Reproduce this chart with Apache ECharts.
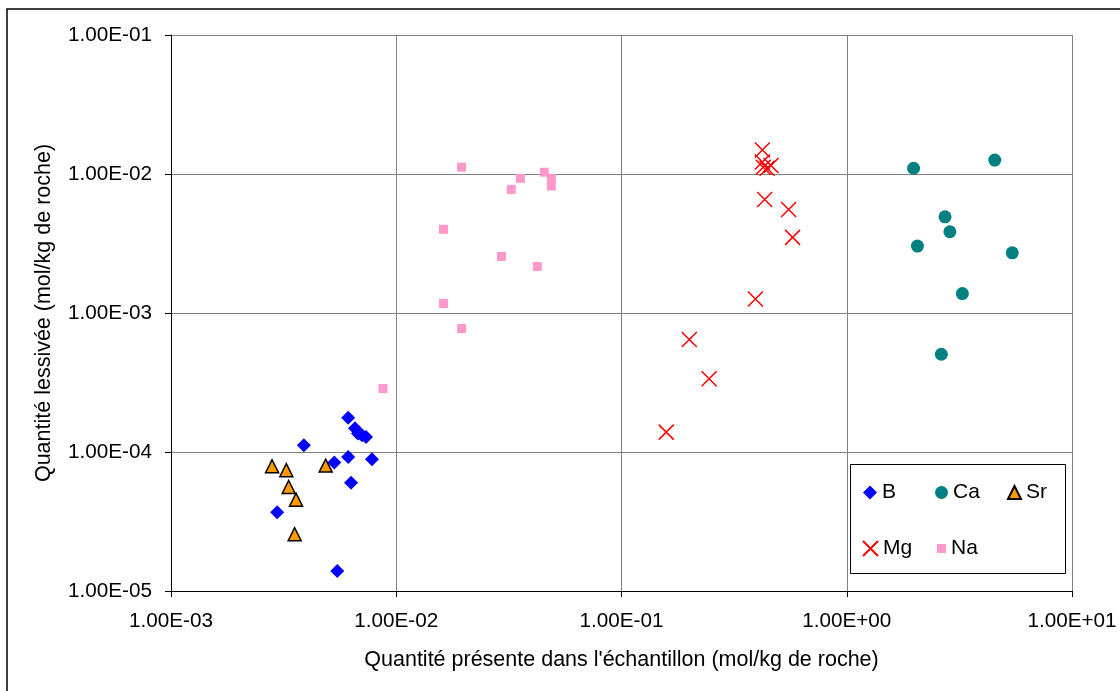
<!DOCTYPE html>
<html><head><meta charset="utf-8">
<script src="https://cdn.jsdelivr.net/npm/echarts@6/dist/echarts.min.js"></script>
<style>html,body{margin:0;padding:0;background:#fff}#c{width:1120px;height:691px}</style>
</head><body><div id="c"></div>
<script>
// Tick labels (decades)
const xTickLabels = ['1.00E-03','1.00E-02','1.00E-01','1.00E+00','1.00E+01'];
const yTickLabels = ['1.00E-05','1.00E-04','1.00E-03','1.00E-02','1.00E-01'];

// B (diamonds)
const B_x = [6.12e-3, 6.56e-3, 6.76e-3, 7.05e-3, 7.34e-3, 3.89e-3, 6.12e-3, 5.31e-3, 7.80e-3, 6.30e-3, 2.96e-3, 5.47e-3];
const B_y = [1.76e-4, 1.48e-4, 1.36e-4, 1.32e-4, 1.28e-4, 1.12e-4, 9.2e-5, 8.4e-5, 8.85e-5, 6.0e-5, 3.68e-5, 1.39e-5];
// Ca (circles)
const Ca_x = [1.98, 4.54, 2.73, 2.87, 2.06, 5.43, 3.26, 2.63];
const Ca_y = [1.10e-2, 1.26e-2, 4.92e-3, 3.84e-3, 3.03e-3, 2.71e-3, 1.38e-3, 5.05e-4];
// Sr (triangles)
const Sr_x = [2.81e-3, 3.25e-3, 3.33e-3, 3.59e-3, 3.54e-3, 4.86e-3];
const Sr_y = [7.9e-5, 7.4e-5, 5.6e-5, 4.54e-5, 2.56e-5, 7.98e-5];
// Mg (crosses)
const Mg_x = [0.422, 0.422, 0.426, 0.443, 0.461, 0.432, 0.552, 0.575, 0.393, 0.200, 0.245, 0.158];
const Mg_y = [1.49e-2, 1.22e-2, 1.12e-2, 1.10e-2, 1.15e-2, 6.56e-3, 5.56e-3, 3.50e-3, 1.26e-3, 6.45e-4, 3.36e-4, 1.39e-4];
// Na (squares)
const Na_x = [1.95e-2, 4.54e-2, 3.56e-2, 4.88e-2, 4.88e-2, 3.24e-2, 1.62e-2, 2.93e-2, 4.23e-2, 1.62e-2, 1.95e-2, 8.73e-3];
const Na_y = [1.12e-2, 1.03e-2, 9.3e-3, 9.25e-3, 8.2e-3, 7.75e-3, 4.0e-3, 2.55e-3, 2.16e-3, 1.17e-3, 7.73e-4, 2.86e-4];

const zip = (xs, ys) => xs.map((x, i) => [x, ys[i]]);
const FONT = '"Liberation Sans", Arial, sans-serif';
const crossPath = 'path://M0,0L10,10M10,0L0,10';

function labelFor(list, minExp) {
  return function (v) {
    const e = Math.round(Math.log10(v));
    return list[e - minExp] || '';
  };
}

const chart = echarts.init(document.getElementById('c'), null, {renderer: 'canvas'});

function legendItem(name, left, top, icon, w, h) {
  return {
    data: [name], left: left, top: top, z: 10,
    icon: icon, itemWidth: w, itemHeight: h, itemGap: 0,
    selectedMode: false,
    textStyle: {fontSize: 21, fontFamily: FONT, color: '#000', padding: [0, 0, 0, 0]},
    padding: 0
  };
}

const option = {
  backgroundColor: '#fff',
  animation: false,
  grid: {left: 171, top: 35, right: 48, bottom: 100, containLabel: false},
  xAxis: {
    type: 'log', logBase: 10, min: 0.001, max: 10,
    name: "Quantité présente dans l'échantillon (mol/kg de roche)",
    nameLocation: 'middle', nameGap: 58,
    nameTextStyle: {fontSize: 21.5, fontFamily: FONT, color: '#000'},
    axisLine: {show: true, onZero: false, lineStyle: {color: '#000', width: 1}},
    axisTick: {show: true, length: 6, lineStyle: {color: '#000'}},
    minorTick: {show: false},
    splitLine: {show: true, lineStyle: {color: '#808080', width: 1}},
    axisLabel: {formatter: labelFor(xTickLabels, -3), fontSize: 20.7, fontFamily: FONT, color: '#000', margin: 20, showMinLabel: true, showMaxLabel: true, hideOverlap: false}
  },
  yAxis: {
    type: 'log', logBase: 10, min: 0.00001, max: 0.1,
    name: 'Quantité lessivée (mol/kg de roche)',
    nameLocation: 'middle', nameGap: 116,
    nameTextStyle: {fontSize: 21.5, fontFamily: FONT, color: '#000'},
    axisLine: {show: true, onZero: false, lineStyle: {color: '#000', width: 1}},
    axisTick: {show: true, length: 6, lineStyle: {color: '#000'}},
    minorTick: {show: false},
    splitLine: {show: true, lineStyle: {color: '#808080', width: 1}},
    axisLabel: {formatter: labelFor(yTickLabels, -5), fontSize: 20.7, fontFamily: FONT, color: '#000', margin: 19, showMinLabel: true, showMaxLabel: true, hideOverlap: false}
  },
  legend: [
    legendItem('B', 863, 482, 'diamond', 14, 14),
    legendItem('Ca', 935, 482, 'circle', 13, 13),
    legendItem('Sr', 1007, 482, 'triangle', 13, 13),
    legendItem('Mg', 862, 538, crossPath, 15, 15),
    legendItem('Na', 937, 538, 'rect', 9, 9)
  ],
  graphic: [
    {type: 'rect', z: 1, silent: true, shape: {x: 7, y: 9, width: 1300, height: 900}, style: {fill: 'none', stroke: '#000', lineWidth: 1.5}},
    {type: 'rect', z: 5, silent: true, shape: {x: 850.5, y: 464.5, width: 215, height: 109}, style: {fill: '#fff', stroke: '#000', lineWidth: 1}}
  ],
  series: [
    {name: 'B', type: 'scatter', symbol: 'diamond', symbolSize: 14, itemStyle: {color: '#0000FF', opacity: 1}, data: zip(B_x, B_y)},
    {name: 'Ca', type: 'scatter', symbol: 'circle', symbolSize: 13, itemStyle: {color: '#008080', opacity: 1}, data: zip(Ca_x, Ca_y)},
    {name: 'Sr', type: 'scatter', symbol: 'triangle', symbolSize: 13, itemStyle: {color: '#FF9900', borderColor: '#000', borderWidth: 1.5, opacity: 1}, data: zip(Sr_x, Sr_y)},
    {name: 'Mg', type: 'scatter', symbol: crossPath, symbolSize: 15, itemStyle: {color: 'rgba(0,0,0,0)', borderColor: '#FF0000', borderWidth: 1.5, opacity: 1}, data: zip(Mg_x, Mg_y)},
    {name: 'Na', type: 'scatter', symbol: 'rect', symbolSize: 9, itemStyle: {color: '#FF99CC', opacity: 1}, data: zip(Na_x, Na_y)}
  ]
};
chart.setOption(option);
</script>
</body></html>
